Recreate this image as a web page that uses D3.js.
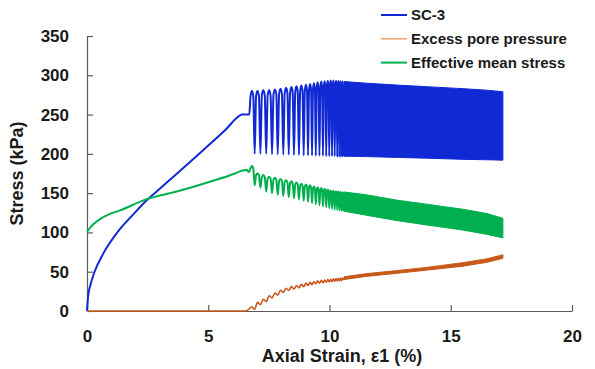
<!DOCTYPE html>
<html>
<head>
<meta charset="utf-8">
<script src="https://cdn.jsdelivr.net/npm/d3@7"></script>
<style>
  html, body { margin: 0; padding: 0; background: #fff; }
  svg { display: block; font-family: "Liberation Sans", Arial, sans-serif; }
</style>
</head>
<body>
<div id="chart"></div>
<script>
// ---- data ----
const xTicks = [0, 5, 10, 15, 20];
const yTicks = [0, 50, 100, 150, 200, 250, 300, 350];
const legendLabels = ['SC-3', 'Excess pore pressure', 'Effective mean stress'];

// monotonic loading (before cycling)
const scStrain = [0, 0.05, 0.15, 0.3, 0.67, 1.25, 1.91, 2.43, 3.0, 3.42, 4.8, 5.69, 6.31, 6.38, 6.69];
const scStress = [0, 20, 34, 49, 73, 100, 123, 140, 155.5, 167, 205, 230, 249, 250, 250];
const effStrain = [0, 0.1, 0.25, 0.54, 0.9, 1.36, 2.43, 3.7, 5.07, 6.1, 6.38, 6.58, 6.68];
const effStress = [100.5, 105, 110, 117, 123, 128, 142, 152, 164.5, 175, 178.5, 179.4, 177];
const poreStrain = [0, 6.55];
const porePressure = [0, 0];

// individually visible load cycles
const peakStrain = [6.80, 7.03, 7.27, 7.51, 7.75, 7.98, 8.21, 8.43, 8.64, 8.84, 9.03, 9.20,
  9.36, 9.51, 9.66, 9.80, 9.93, 10.05, 10.16, 10.27, 10.37, 10.46, 10.54];
const troughStrain = [6.915, 7.15, 7.39, 7.63, 7.865, 8.095, 8.32, 8.535, 8.74, 8.935, 9.115, 9.28,
  9.435, 9.585, 9.73, 9.865, 9.99, 10.105, 10.215, 10.32, 10.415, 10.5, 10.58];
const scPeak = [280, 280, 281, 281, 282, 283, 284, 285, 286, 287, 288, 289,
  290, 291, 292, 292.5, 293, 293.5, 293.5, 293, 293, 292.5, 292];
const scTrough = [200, 200, 200, 199.5, 199.5, 199, 199, 198.5, 198.5, 198, 198, 198,
  197.5, 197.5, 197.5, 197, 197, 197, 197, 197, 197, 197, 197];
const effPeak = [184.5, 175, 173, 171, 169.5, 168, 166.5, 165, 163.5, 162, 161, 160,
  158.5, 157.5, 156.5, 155.5, 154.5, 153.5, 153, 152.5, 152, 151.5, 151];
const effTrough = [160, 157, 152, 150, 148, 146.5, 145, 143.5, 142, 140.5, 139, 137.5,
  136, 134.5, 133, 132, 131, 130, 129, 128.5, 128, 127.5, 127];
const poreTop = [5, 11, 15, 19.5, 23, 26.5, 29, 31, 32.5, 34, 35.5, 36.5,
  37.5, 38.5, 39, 39.5, 40, 40.5, 41, 41.2, 41.5, 41.8, 42];
const poreDip = [2, 8, 12, 16.5, 20, 23.5, 26, 28, 29.5, 31, 32.5, 33.5,
  34.5, 35.5, 36, 36.5, 37, 37.5, 38, 38.2, 38.5, 38.8, 39.5];

// densely packed cycles: envelope of the band
const denseStrain = [10.6, 11.5, 12.8, 14, 15.5, 16.5, 17.15];
const scHi = [292, 290, 287.5, 285.5, 283, 281, 279];
const scLo = [197, 196.5, 195.5, 194.5, 193, 192.5, 192];
const effHi = [151.5, 148, 141, 136, 129.5, 124, 118];
const effLo = [127, 122, 115, 109.5, 103, 97.5, 93];
const poreHi = [43.5, 47.5, 51.5, 55.5, 61.5, 66.5, 71.5];
const poreLo = [40, 44, 48, 52, 57, 62, 67];

const colors = { sc: '#1029d4', pore: '#c8591a', eff: '#00b04f' };
const legendLineColors = ['#1029d4', '#eaa070', '#00b04f'];
const axisColor = '#5a5a5a';
const textColor = '#1a1a1a';

// ---- layout ----
const W = 595, H = 369;
const plot = { left: 87, right: 572, top: 36, bottom: 311 };

const svg = d3.select('#chart').append('svg').attr('width', W).attr('height', H);

const x = d3.scaleLinear().domain([0, 20]).range([plot.left, plot.right]);
const y = d3.scaleLinear().domain([0, 350]).range([plot.bottom, plot.top]);

// build a series: monotonic part, then one loop per cycle.
// shoulders on each side of a peak give the loop its rounded, wide top
function buildSeries(mStrain, mVal, peaks, troughs, round) {
  const pts = mStrain.map((s, i) => [s, mVal[i]]);
  peakStrain.forEach((s, i) => {
    const prev = i === 0 ? mStrain[mStrain.length - 1] : troughStrain[i - 1];
    const next = troughStrain[i];
    const drop = (peaks[i] - troughs[i]) * round;
    if (round > 0) pts.push([s - (s - prev) * 0.5, peaks[i] - drop]);
    pts.push([s, peaks[i]]);
    if (round > 0) pts.push([s + (next - s) * 0.5, peaks[i] - drop]);
    pts.push([next, troughs[i]]);
  });
  return pts;
}

const line = d3.line().x(d => x(d[0])).y(d => y(d[1])).curve(d3.curveMonotoneX);
const band = d3.area()
  .x((d, i) => x(denseStrain[i]))
  .y0(d => y(d[0]))
  .y1(d => y(d[1]));

// axes
const yAxis = svg.append('g')
  .attr('transform', `translate(${plot.left},0)`)
  .call(d3.axisLeft(y).tickValues(yTicks).tickSizeInner(-6).tickSizeOuter(0).tickPadding(18));
const xAxis = svg.append('g')
  .attr('transform', `translate(0,${plot.bottom})`)
  .call(d3.axisBottom(x).tickValues(xTicks).tickSizeInner(-6).tickSizeOuter(0).tickPadding(19));

[yAxis, xAxis].forEach(g => {
  g.select('.domain').attr('stroke', axisColor).attr('stroke-width', 1.2);
  g.selectAll('.tick line').attr('stroke', axisColor).attr('stroke-width', 1.2);
  g.selectAll('.tick text')
    .attr('fill', textColor)
    .attr('font-size', '17px')
    .attr('font-weight', 'bold')
    .attr('font-family', '"Liberation Sans", Arial, sans-serif');
});

// series
const scData = buildSeries(scStrain, scStress, scPeak, scTrough, 0.08);
const effData = buildSeries(effStrain, effStress, effPeak, effTrough, 0.12);
const poreData = buildSeries(poreStrain, porePressure, poreTop, poreDip, 0);

svg.append('path').datum(scData)
  .attr('fill', 'none').attr('stroke', colors.sc).attr('stroke-width', 2).attr('d', line);
svg.append('path').datum(scHi.map((v, i) => [scLo[i], v]))
  .attr('fill', colors.sc).attr('stroke', colors.sc).attr('stroke-width', 1).attr('d', band);

svg.append('path').datum(poreData)
  .attr('fill', 'none').attr('stroke', colors.pore).attr('stroke-width', 1.6).attr('d', line);
svg.append('path').datum(poreHi.map((v, i) => [poreLo[i], v]))
  .attr('fill', colors.pore).attr('stroke', colors.pore).attr('stroke-width', 1).attr('d', band);

svg.append('path').datum(effData)
  .attr('fill', 'none').attr('stroke', colors.eff).attr('stroke-width', 2).attr('d', line);
svg.append('path').datum(effHi.map((v, i) => [effLo[i], v]))
  .attr('fill', colors.eff).attr('stroke', colors.eff).attr('stroke-width', 1).attr('d', band);

// axis titles
svg.append('text')
  .attr('transform', `translate(23,${(plot.top + plot.bottom) / 2}) rotate(-90)`)
  .attr('text-anchor', 'middle')
  .attr('fill', textColor).attr('font-size', '18px').attr('font-weight', 'bold')
  .text('Stress (kPa)');
svg.append('text')
  .attr('x', 342).attr('y', 362)
  .attr('text-anchor', 'middle')
  .attr('fill', textColor).attr('font-size', '18px').attr('font-weight', 'bold')
  .text('Axial Strain, ε1 (%)');

// legend
const legend = svg.append('g').attr('transform', 'translate(381,15)');
legendLabels.forEach((label, i) => {
  const item = legend.append('g').attr('transform', `translate(0,${i * 23.8})`);
  item.append('line')
    .attr('x1', 0).attr('x2', 26).attr('y1', 0).attr('y2', 0)
    .attr('stroke', legendLineColors[i]).attr('stroke-width', i === 1 ? 1.5 : 2);
  item.append('text')
    .attr('x', 30).attr('y', 0).attr('dy', '0.35em')
    .attr('fill', textColor).attr('font-size', '15px').attr('font-weight', 'bold')
    .text(label);
});
</script>
</body>
</html>
